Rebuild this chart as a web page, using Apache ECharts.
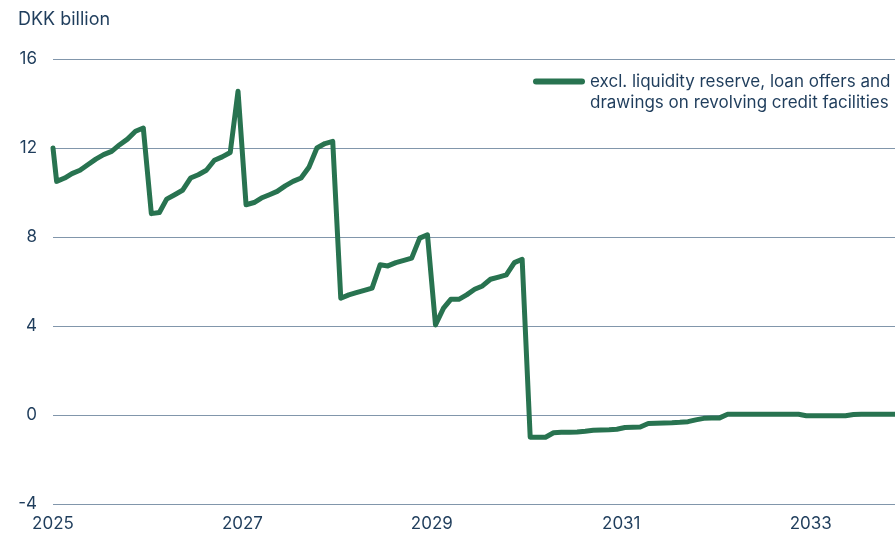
<!DOCTYPE html>
<html>
<head>
<meta charset="utf-8">
<script src="https://cdn.jsdelivr.net/npm/echarts@6/dist/echarts.min.js"></script>
<style>
  html, body { margin: 0; padding: 0; background: #ffffff; }
  #chart { width: 895px; height: 534px; }
</style>
</head>
<body>
<div id="chart"></div>
<script>
// Opening balance on 1 January 2025, then monthly values (plotted mid-month), DKK billion
const openingDate = [2025, 1, 1];
const openingValue = 12.0;

const values2025 = [10.5, 10.65, 10.85, 11.0, 11.25, 11.5, 11.7, 11.85, 12.15, 12.4, 12.75, 12.9];
const values2026 = [9.05, 9.1, 9.7, 9.9, 10.1, 10.65, 10.8, 11.0, 11.45, 11.6, 11.8, 14.55];
const values2027 = [9.45, 9.55, 9.75, 9.9, 10.05, 10.3, 10.5, 10.65, 11.15, 12.0, 12.2, 12.3];
const values2028 = [5.25, 5.4, 5.5, 5.6, 5.7, 6.75, 6.7, 6.85, 6.95, 7.05, 7.95, 8.1];
const values2029 = [4.05, 4.8, 5.2, 5.2, 5.4, 5.65, 5.8, 6.1, 6.2, 6.3, 6.85, 7.0];
const values2030 = [-1.0, -1.0, -1.0, -0.8, -0.78, -0.77, -0.76, -0.73, -0.69, -0.67, -0.66, -0.64];
const values2031 = [-0.56, -0.55, -0.54, -0.38, -0.37, -0.36, -0.35, -0.33, -0.3, -0.22, -0.15, -0.14];
const values2032 = [-0.13, 0.03, 0.03, 0.03, 0.03, 0.03, 0.03, 0.03, 0.03, 0.03, 0.03, -0.03];
const values2033 = [-0.03, -0.03, -0.03, -0.03, -0.03, 0.02, 0.03, 0.03, 0.03, 0.03, 0.03, 0.03];

const years = [2025, 2026, 2027, 2028, 2029, 2030, 2031, 2032, 2033];
const yearlyValues = [values2025, values2026, values2027, values2028, values2029,
                      values2030, values2031, values2032, values2033];

const seriesName = 'excl. liquidity reserve, loan offers and\ndrawings on revolving credit facilities';
const unitLabel = 'DKK billion';
const yTicks = { min: -4, max: 16, step: 4 };
const xTicks = { first: 2025, step: 2, end: 2033.89 };

// calendar date -> fractional year for the value-type x axis
function toYear(y, m, d) {
  const start = Date.UTC(y, 0, 1);
  const next = Date.UTC(y + 1, 0, 1);
  return y + (Date.UTC(y, m - 1, d) - start) / (next - start);
}

const points = [[toYear(openingDate[0], openingDate[1], openingDate[2]), openingValue]];
years.forEach((y, i) => {
  yearlyValues[i].forEach((v, m) => {
    points.push([toYear(y, m + 1, 15), v]);
  });
});

const textColor = '#1f3d5c';
const gridColor = '#8196ab';
const lineColor = '#287350';
const fontFamily = 'Inter, "Noto Sans", Roboto, sans-serif';

const chart = echarts.init(document.getElementById('chart'), null, { renderer: 'canvas' });
chart.setOption({
  animation: false,
  backgroundColor: '#ffffff',
  textStyle: { fontFamily: fontFamily, color: textColor },
  title: {
    text: unitLabel,
    left: 18,
    top: 11,
    padding: 0,
    textStyle: { fontSize: 18, fontWeight: 'normal', color: textColor, fontFamily: fontFamily }
  },
  legend: {
    left: 533,
    top: 50,
    padding: 0,
    itemWidth: 52,
    itemHeight: 6,
    itemGap: 5,
    icon: 'path://M3,0 H49 A3,3 0 0 1 49,6 H3 A3,3 0 0 1 3,0 Z',
    selectedMode: false,
    // empty first line keeps the icon level with the first text line
    formatter: name => '\n' + name,
    textStyle: {
      fontSize: 17,
      lineHeight: 21,
      color: textColor,
      fontFamily: fontFamily
    },
    data: [seriesName]
  },
  grid: { left: 53, right: 0, top: 59, bottom: 30, containLabel: false },
  xAxis: {
    type: 'value',
    min: xTicks.first,
    max: xTicks.end,
    interval: xTicks.step,
    axisLine: { show: false },
    axisTick: { show: false },
    splitLine: { show: false },
    axisLabel: {
      showMaxLabel: false,
      margin: 11,
      fontSize: 17,
      color: textColor,
      fontFamily: fontFamily,
      formatter: v => (Number.isInteger(v) ? String(v) : '')
    }
  },
  yAxis: {
    type: 'value',
    min: yTicks.min,
    max: yTicks.max,
    interval: yTicks.step,
    axisLine: { show: false },
    axisTick: { show: false },
    axisLabel: { margin: 16, fontSize: 17, color: textColor, fontFamily: fontFamily },
    splitLine: { show: true, lineStyle: { color: gridColor, width: 1 } }
  },
  series: [{
    name: seriesName,
    type: 'line',
    data: points,
    showSymbol: false,
    symbol: 'none',
    color: lineColor,
    lineStyle: { color: lineColor, width: 5, cap: 'round', join: 'round' },
    clip: true
  }]
});
</script>
</body>
</html>
